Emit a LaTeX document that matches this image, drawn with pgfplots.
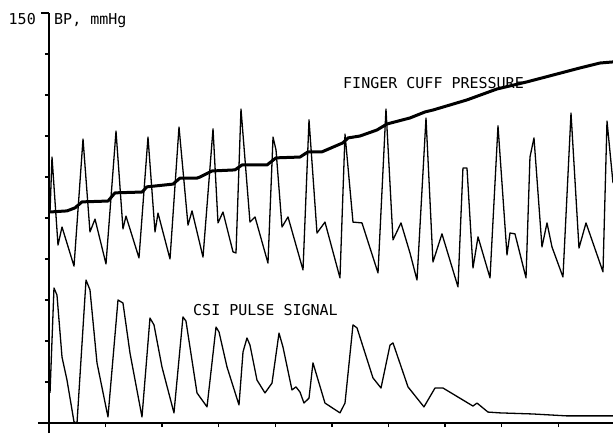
\documentclass[border=0pt]{standalone}
\usepackage{fontspec}
\setmainfont{DejaVu Sans Mono}
\usepackage{pgfplots}
\pgfplotsset{compat=1.18}

% finger blood pressure trace (x in tick units, y in mmHg)
\pgfplotstableread{
x y
0.018 77.2
0.053 97.3
0.159 65.1
0.230 71.7
0.442 57.4
0.601 103.9
0.724 69.9
0.813 74.6
1.007 58.2
1.184 106.8
1.307 71.0
1.360 75.7
1.590 60.4
1.749 104.6
1.873 69.9
1.926 76.8
2.138 60.0
2.297 108.3
2.456 72.4
2.527 77.6
2.721 60.7
2.898 107.6
2.986 73.2
3.074 77.2
3.251 62.6
3.304 62.2
3.392 114.9
3.551 73.5
3.640 75.4
3.869 58.5
3.958 104.6
4.011 99.9
4.117 71.7
4.223 75.4
4.488 56.0
4.594 110.9
4.735 69.5
4.876 73.5
5.141 53.1
5.230 105.7
5.371 73.5
5.530 73.2
5.813 54.9
5.954 114.9
6.078 67.0
6.219 73.2
6.378 62.2
6.502 52.3
6.661 111.6
6.784 58.9
6.943 69.2
7.226 49.8
7.314 93.3
7.385 93.3
7.491 56.7
7.580 68.1
7.792 53.1
7.933 108.7
8.092 61.5
8.145 69.5
8.233 69.2
8.428 53.1
8.498 97.3
8.569 104.3
8.710 64.4
8.799 73.2
8.887 64.4
9.081 53.4
9.223 113.4
9.364 64.0
9.488 73.2
9.788 55.3
9.859 110.5
9.965 87.8
}\bp

\pgfplotstableread{
x y
0.018 77.2
0.318 77.6
0.459 78.7
0.583 80.9
1.042 81.2
1.166 84.2
1.643 84.5
1.731 86.4
2.191 87.4
2.314 89.6
2.615 89.6
2.668 90.0
2.880 92.2
3.286 92.6
3.410 94.4
3.852 94.4
4.011 97.0
4.435 97.3
4.576 99.2
4.823 99.2
5.194 102.5
5.283 104.3
5.495 105.0
5.795 107.2
5.972 109.4
6.378 111.6
6.643 113.8
6.784 114.5
7.385 118.2
7.915 122.2
8.445 124.8
8.905 127.3
9.382 129.9
9.735 131.7
9.965 132.1
}\cuff

\pgfplotstableread{
x y
0.018 11.0
0.088 49.4
0.141 46.8
0.230 24.1
0.318 15.7
0.442 0.4
0.495 0.0
0.654 52.3
0.724 48.7
0.848 22.0
1.042 2.2
1.219 45.0
1.307 43.9
1.431 25.6
1.643 2.2
1.784 38.4
1.855 35.9
1.996 20.5
2.208 3.7
2.367 38.8
2.420 37.3
2.615 11.0
2.792 5.9
2.951 35.1
3.004 33.3
3.145 20.5
3.357 6.6
3.428 26.0
3.498 31.1
3.551 28.5
3.675 15.7
3.816 11.0
3.940 14.6
4.064 32.9
4.134 27.8
4.293 12.1
4.364 13.2
4.435 11.3
4.505 7.3
4.594 9.1
4.664 22.0
4.876 7.3
5.141 3.7
5.230 7.3
5.371 35.9
5.442 34.8
5.724 16.5
5.866 12.8
6.025 28.5
6.078 29.3
6.343 13.2
6.625 5.9
6.820 12.8
6.961 12.8
7.491 6.2
7.562 7.3
7.756 4.0
7.968 3.7
8.551 3.3
9.152 2.6
9.965 2.6
}\csi

\begin{document}
\begin{tikzpicture}[x=1pt,y=1pt]
\useasboundingbox (0,0) rectangle (613,434);
\begin{axis}[
  at={(49pt,11pt)}, anchor=south west,
  scale only axis, width=564pt, height=410pt,
  xmin=0, xmax=9.965, ymin=0, ymax=150,
  axis x line=bottom, axis y line=left,
  axis line style={-, line width=1.6pt},
  x axis line style={shorten <=-11pt},
  y axis line style={shorten <=-10pt},
  xtick={1,...,9}, ytick={15,30,...,135},
  xticklabels={}, yticklabels={},
  extra y ticks={150}, extra y tick labels={},
  extra y tick style={major tick length=8pt},
  tick align=outside, major tick length=4pt,
  every tick/.style={black, line width=1.4pt},
  clip=false,
]
\addplot[black, line width=1.3pt, line join=round] table {\bp};
\addplot[black, line width=3pt, line join=round] table {\cuff};
\addplot[black, line width=1.3pt, line join=round] table {\csi};
\end{axis}
\node[anchor=north east, inner sep=0pt, font=\fontsize{15}{15}\selectfont] at (36,421) {150};
\node[anchor=north west, inner sep=0pt, font=\fontsize{15}{15}\selectfont] at (54,421) {BP, mmHg};
\node[anchor=north west, inner sep=0pt, font=\fontsize{15}{15}\selectfont] at (343,357) {FINGER CUFF PRESSURE};
\node[anchor=north west, inner sep=0pt, font=\fontsize{15}{15}\selectfont] at (193,130) {CSI PULSE SIGNAL};
\end{tikzpicture}
\end{document}
